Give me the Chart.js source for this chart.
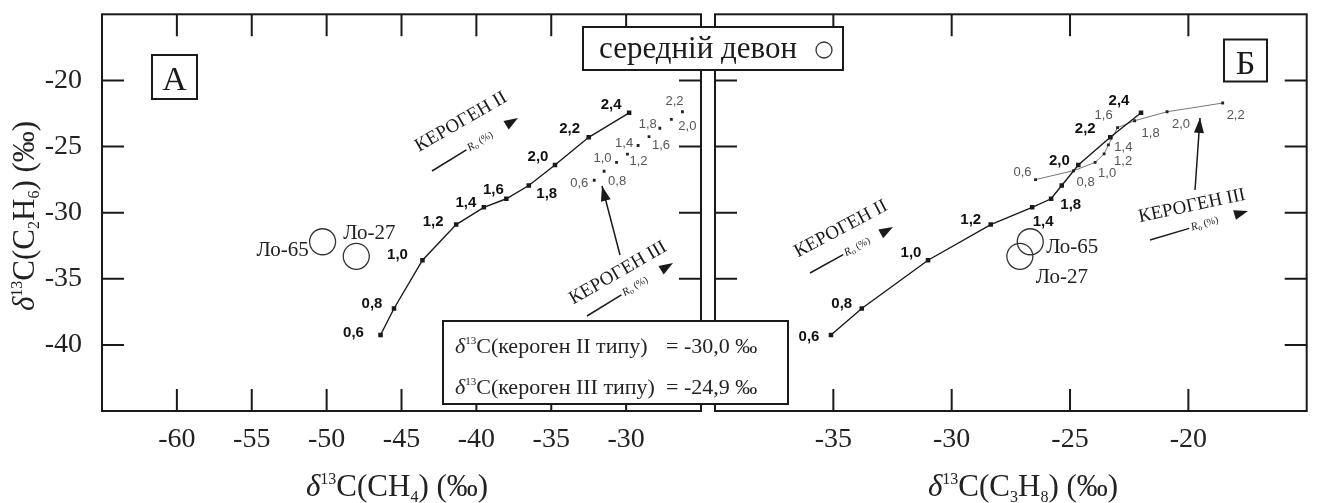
<!DOCTYPE html>
<html>
<head>
<meta charset="utf-8">
<script src="https://cdn.jsdelivr.net/npm/chart.js@4.4.0/dist/chart.umd.min.js"></script>
<style>
  html, body { margin: 0; padding: 0; background: #fff; }
  #wrap { position: relative; width: 1321px; height: 503px; }
  canvas { position: absolute; left: 0; top: 0; }
</style>
</head>
<body>
<div id="wrap">
  <canvas id="chartA" width="1321" height="503"></canvas>
  <canvas id="chartB" width="1321" height="503"></canvas>
</div>
<script>
// Ro (%) steps along the two kerogen maturation trends
const roII  = ['0,6', '0,8', '1,0', '1,2', '1,4', '1,6', '1,8', '2,0', '2,2', '2,4'];
const roIII = ['0,6', '0,8', '1,0', '1,2', '1,4', '1,6', '1,8', '2,0', '2,2'];

// kerogen II trend: δ13C of methane, ethane, propane (‰)
const ch4II  = [-46.4, -45.5, -43.6, -41.35, -39.5, -38.0, -36.5, -34.75, -32.5, -29.8];
const c2h6II = [-39.25, -37.25, -33.6, -30.9, -29.6, -28.95, -27.95, -26.4, -24.3, -22.45];
const c3h8II = [-35.1, -33.8, -31.0, -28.35, -26.6, -25.8, -25.35, -24.65, -23.3, -22.0];

// kerogen III trend (ethane read separately for each panel)
const ch4III   = [-32.13, -31.47, -30.64, -29.91, -29.2, -28.47, -27.75, -26.98, -26.24];
const c2h6IIIa = [-27.55, -26.87, -26.2, -25.57, -24.92, -24.25, -23.62, -22.95, -22.37];
const c3h8III  = [-26.46, -24.85, -23.94, -23.56, -23.38, -22.99, -22.27, -20.9, -18.55];
const c2h6IIIb = [-27.5, -26.83, -26.2, -25.55, -24.88, -23.57, -23.05, -22.37, -21.71];

// Middle Devonian gas samples
const samples    = ['Ло-65', 'Ло-27'];
const sampleCH4  = [-50.27, -48.02];
const sampleC2H6 = [-32.2, -33.3];
const sampleC3H8 = [-26.68, -27.12];

const serif = "'Liberation Serif', 'Times New Roman', serif";
const sans = "'Liberation Sans', Arial, sans-serif";
const ink = '#1a1a1a';

// label offsets (px) relative to each point
const offIIa  = [[-27, -2], [-22, -5], [-25, -5], [-23, -3], [-18, -5], [-13, -9], [18, 8], [-17, -8], [-19, -8], [-18, -8]];
const offIIIa = [[-15, 3], [13, 10], [-14, -4], [11, 7], [-14, -2], [12, 9], [-12, -4], [16, 7], [-8, -10]];
const offIIb  = [[-22, 2], [-20, -5], [-17, -7], [-20, -5], [11, 14], null, [9, 19], [-19, -4], [-25, -8], [-22, -12]];
const offIIIb = [[-13, -7], [12, 12], [12, 11], [19, 8], [15, 2], [-14, -12], [16, 13], [14, 13], [13, 12]];
const offSmpA = [[-40, 9], [13, -23]];
const offSmpB = [[42, 6], [42, 21]];

function xy(xs, ys) { return xs.map((x, i) => ({ x: x, y: ys[i] })); }

// text made of pieces with their own font and vertical shift
function rich(ctx, parts, x, y, align) {
  let w = 0;
  parts.forEach(p => { ctx.font = p[1]; w += ctx.measureText(p[0]).width; });
  let cx = align === 'center' ? x - w / 2 : (align === 'right' ? x - w : x);
  ctx.textAlign = 'left';
  parts.forEach(p => {
    ctx.font = p[1];
    ctx.fillText(p[0], cx, y + (p[2] || 0));
    cx += ctx.measureText(p[0]).width;
  });
}

function arrowHead(ctx, x1, y1, x2, y2, len, half) {
  const a = Math.atan2(y2 - y1, x2 - x1);
  ctx.save();
  ctx.translate(x2, y2);
  ctx.rotate(a);
  ctx.beginPath();
  ctx.moveTo(0, 0);
  ctx.lineTo(-len, -half);
  ctx.lineTo(-len, half);
  ctx.closePath();
  ctx.fill();
  ctx.restore();
}

// rotated "КЕРОГЕН" caption with the Ro arrow under it
function kerogen(ctx, k) {
  ctx.save();
  ctx.fillStyle = ink;
  ctx.strokeStyle = ink;
  ctx.translate(k.tx, k.ty);
  ctx.rotate(k.ang * Math.PI / 180);
  ctx.font = '19px ' + serif;
  ctx.textAlign = 'center';
  ctx.textBaseline = 'middle';
  ctx.fillText(k.text, 0, 0);
  ctx.restore();

  const L = Math.hypot(k.x2 - k.x1, k.y2 - k.y1);
  const a = Math.atan2(k.y2 - k.y1, k.x2 - k.x1);
  ctx.save();
  ctx.fillStyle = ink;
  ctx.strokeStyle = ink;
  ctx.lineWidth = 1.5;
  ctx.translate(k.x1, k.y1);
  ctx.rotate(a);
  ctx.beginPath();
  ctx.moveTo(0, 0);
  ctx.lineTo(L * 0.4, 0);
  ctx.stroke();
  ctx.textBaseline = 'middle';
  rich(ctx, [['R', 'italic 11px ' + serif], ['o', '8px ' + serif, 3], [' (%)', '10px ' + serif]], L * 0.42, 0, 'left');
  ctx.beginPath();
  ctx.moveTo(L, 0);
  ctx.lineTo(L - 14, -5);
  ctx.lineTo(L - 14, 5);
  ctx.closePath();
  ctx.fill();
  ctx.restore();
}

function pointer(ctx, x1, y1, x2, y2) {
  ctx.save();
  ctx.strokeStyle = ink;
  ctx.fillStyle = ink;
  ctx.lineWidth = 1.5;
  ctx.beginPath();
  ctx.moveTo(x1, y1);
  ctx.lineTo(x2, y2);
  ctx.stroke();
  arrowHead(ctx, x1, y1, x2, y2, 15, 5);
  ctx.restore();
}

function boxed(ctx, x, y, w, h) {
  ctx.save();
  ctx.fillStyle = '#fff';
  ctx.strokeStyle = ink;
  ctx.lineWidth = 2;
  ctx.fillRect(x, y, w, h);
  ctx.strokeRect(x, y, w, h);
  ctx.restore();
}

// frame round the plot area with inward ticks on all four sides
const frame = {
  id: 'frame',
  beforeDatasetsDraw(chart) {
    const { ctx, chartArea: a, scales: { x, y } } = chart;
    ctx.save();
    ctx.strokeStyle = ink;
    ctx.lineWidth = 2;
    ctx.strokeRect(a.left, a.top, a.right - a.left, a.bottom - a.top);
    ctx.beginPath();
    x.ticks.forEach(t => {
      if (t.value <= x.min || t.value >= x.max) return;
      const px = x.getPixelForValue(t.value);
      ctx.moveTo(px, a.bottom); ctx.lineTo(px, a.bottom - 22);
      ctx.moveTo(px, a.top); ctx.lineTo(px, a.top + 22);
    });
    y.ticks.forEach(t => {
      if (t.value <= y.min || t.value >= y.max) return;
      const py = y.getPixelForValue(t.value);
      ctx.moveTo(a.left, py); ctx.lineTo(a.left + 22, py);
      ctx.moveTo(a.right, py); ctx.lineTo(a.right - 22, py);
    });
    ctx.stroke();
    ctx.restore();
  }
};

// Ro and sample names next to the points
const pointText = {
  id: 'pointText',
  afterDatasetsDraw(chart) {
    const ctx = chart.ctx;
    chart.data.datasets.forEach((ds, di) => {
      if (!ds.texts) return;
      const meta = chart.getDatasetMeta(di);
      ctx.save();
      ctx.font = ds.textFont;
      ctx.fillStyle = ds.textColor;
      ctx.textAlign = 'center';
      ctx.textBaseline = 'middle';
      meta.data.forEach((pt, i) => {
        const off = ds.textOffsets[i];
        if (!off) return;
        ctx.fillText(ds.texts[i], pt.x + off[0], pt.y + off[1]);
      });
      ctx.restore();
    });
  }
};

function axes(xmin, xmax, showY) {
  const tickFont = { family: serif, size: 28 };
  return {
    x: {
      type: 'linear', min: xmin, max: xmax,
      grid: { display: false, drawTicks: false },
      border: { display: false },
      ticks: {
        stepSize: 5, padding: 12, color: '#222', font: tickFont,
        maxRotation: 0, autoSkip: false,
        callback: v => (v === xmin || v === xmax) ? '' : String(v)
      },
      afterFit: s => { s.height = 92; s.paddingLeft = 0; s.paddingRight = 0; }
    },
    y: {
      type: 'linear', min: -45, max: -15,
      grid: { display: false, drawTicks: false },
      border: { display: false },
      ticks: {
        display: showY, stepSize: 5, padding: 20, color: '#222', font: tickFont,
        callback: v => (v === -45 || v === -15) ? '' : String(v)
      },
      afterFit: s => { s.width = showY ? 102 : 0; s.paddingTop = 0; s.paddingBottom = 0; }
    }
  };
}

function trendII(data, offsets) {
  return {
    data: data, showLine: true,
    borderColor: ink, borderWidth: 1.4,
    pointStyle: 'rect', pointRadius: 3.2,
    pointBackgroundColor: ink, pointBorderColor: ink, pointBorderWidth: 0,
    texts: roII, textOffsets: offsets,
    textFont: 'bold 15px ' + sans, textColor: '#111'
  };
}

function trendIII(data, offsets, line) {
  return {
    data: data, showLine: line,
    borderColor: '#777', borderWidth: 1,
    pointStyle: 'rect', pointRadius: 2,
    pointBackgroundColor: '#222', pointBorderColor: '#222', pointBorderWidth: 0,
    texts: roIII, textOffsets: offsets,
    textFont: '13px ' + sans, textColor: '#555'
  };
}

function sampleSet(data, offsets) {
  return {
    data: data, showLine: false,
    pointStyle: 'circle', pointRadius: 13,
    pointBackgroundColor: 'rgba(0,0,0,0)', pointBorderColor: '#333', pointBorderWidth: 1.3,
    texts: samples, textOffsets: offsets,
    textFont: '21px ' + serif, textColor: '#222'
  };
}

const titleFont = '31px ' + serif;
const supFont = '16px ' + serif;

// panel A: ethane vs methane
const panelA = {
  id: 'panelA',
  afterDraw(chart) {
    const ctx = chart.ctx;
    ctx.save();
    ctx.fillStyle = '#222';
    ctx.textBaseline = 'alphabetic';
    rich(ctx, [['δ', 'italic ' + titleFont], ['13', supFont, -12], ['C(CH', titleFont], ['4', supFont, 6], [') (‰)', titleFont]], 397, 496, 'center');
    ctx.translate(34, 216);
    ctx.rotate(-Math.PI / 2);
    rich(ctx, [['δ', 'italic ' + titleFont], ['13', supFont, -12], ['C(C', titleFont], ['2', supFont, 5], ['H', titleFont], ['6', supFont, 5], [') (‰)', titleFont]], 0, 0, 'center');
    ctx.restore();

    boxed(ctx, 152, 55, 45, 44);
    ctx.save();
    ctx.fillStyle = ink;
    ctx.font = '34px ' + serif;
    ctx.textAlign = 'center';
    ctx.textBaseline = 'alphabetic';
    ctx.fillText('А', 174.5, 90);
    ctx.restore();

    kerogen(ctx, { text: 'КЕРОГЕН II', tx: 461, ty: 122, ang: -30, x1: 432, y1: 171, x2: 518, y2: 118 });
    kerogen(ctx, { text: 'КЕРОГЕН III', tx: 618, ty: 273, ang: -30, x1: 587, y1: 316, x2: 673, y2: 263 });
    pointer(ctx, 620, 255, 602, 186);
  }
};

// panel Б: ethane vs propane, plus the boxes that straddle both panels
const panelB = {
  id: 'panelB',
  afterDraw(chart) {
    const ctx = chart.ctx;
    ctx.save();
    ctx.fillStyle = '#222';
    ctx.textBaseline = 'alphabetic';
    rich(ctx, [['δ', 'italic ' + titleFont], ['13', supFont, -12], ['C(C', titleFont], ['3', supFont, 6], ['H', titleFont], ['8', supFont, 6], [') (‰)', titleFont]], 1023, 496, 'center');
    ctx.restore();

    boxed(ctx, 1224, 39.5, 43, 42);
    ctx.save();
    ctx.fillStyle = ink;
    ctx.font = '34px ' + serif;
    ctx.textAlign = 'center';
    ctx.textBaseline = 'alphabetic';
    ctx.fillText('Б', 1245.5, 74);
    ctx.restore();

    kerogen(ctx, { text: 'КЕРОГЕН II', tx: 841, ty: 229, ang: -28, x1: 810, y1: 273, x2: 893, y2: 227 });
    kerogen(ctx, { text: 'КЕРОГЕН III', tx: 1192, ty: 206, ang: -12, x1: 1150, y1: 240, x2: 1248, y2: 211 });
    pointer(ctx, 1195, 190, 1200, 118);

    // sample legend
    boxed(ctx, 583, 27, 260, 43);
    ctx.save();
    ctx.fillStyle = ink;
    ctx.font = '31px ' + serif;
    ctx.textAlign = 'left';
    ctx.textBaseline = 'alphabetic';
    ctx.fillText('середній девон', 599, 58);
    ctx.strokeStyle = '#333';
    ctx.lineWidth = 1.3;
    ctx.beginPath();
    ctx.arc(824, 50, 8, 0, Math.PI * 2);
    ctx.stroke();
    ctx.restore();

    // kerogen isotope note
    boxed(ctx, 443, 321, 345, 83);
    ctx.save();
    ctx.fillStyle = '#222';
    ctx.textBaseline = 'alphabetic';
    const f = '22px ' + serif;
    rich(ctx, [['δ', 'italic ' + f], ['13', '11px ' + serif, -9], ['C(кероген II типу)', f]], 455, 353, 'left');
    rich(ctx, [['= -30,0 ‰', f]], 666, 353, 'left');
    rich(ctx, [['δ', 'italic ' + f], ['13', '11px ' + serif, -9], ['C(кероген III типу)', f]], 455, 394, 'left');
    rich(ctx, [['= -24,9 ‰', f]], 666, 394, 'left');
    ctx.restore();
  }
};

new Chart(document.getElementById('chartA'), {
  type: 'scatter',
  data: {
    datasets: [
      trendII(xy(ch4II, c2h6II), offIIa),
      trendIII(xy(ch4III, c2h6IIIa), offIIIa, false),
      sampleSet(xy(sampleCH4, sampleC2H6), offSmpA)
    ]
  },
  options: {
    responsive: false, animation: false,
    layout: { padding: { left: 0, top: 10, right: 620, bottom: 0 } },
    plugins: { legend: { display: false }, tooltip: { enabled: false } },
    scales: axes(-65, -25, true)
  },
  plugins: [frame, pointText, panelA]
});

new Chart(document.getElementById('chartB'), {
  type: 'scatter',
  data: {
    datasets: [
      trendII(xy(c3h8II, c2h6II), offIIb),
      trendIII(xy(c3h8III, c2h6IIIb), offIIIb, true),
      sampleSet(xy(sampleC3H8, sampleC2H6), offSmpB)
    ]
  },
  options: {
    responsive: false, animation: false,
    layout: { padding: { left: 715, top: 10, right: 8, bottom: 0 } },
    plugins: { legend: { display: false }, tooltip: { enabled: false } },
    scales: axes(-40, -15, false)
  },
  plugins: [frame, pointText, panelB]
});
</script>
</body>
</html>
